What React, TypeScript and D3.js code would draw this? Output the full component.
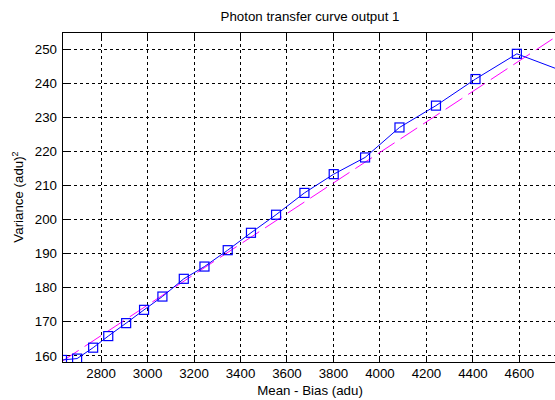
import React from "react";
import * as d3 from "d3";

const meanBias = [2632, 2697, 2766, 2831, 2908, 2985, 3064, 3156, 3245, 3345, 3445, 3553, 3675, 3801, 3936, 4084, 4241, 4411, 4589, 4795];
const variance = [158.8, 159.2, 162.4, 165.8, 169.6, 173.5, 177.4, 182.6, 186.2, 191.0, 196.1, 201.4, 207.8, 213.3, 218.2, 227.0, 233.4, 241.2, 248.6, 243.3];
const fitX = [2632, 4766];
const fitY = [158.4, 254.0];
const xTicks = [2800, 3000, 3200, 3400, 3600, 3800, 4000, 4200, 4400, 4600];
const yTicks = [160, 170, 180, 190, 200, 210, 220, 230, 240, 250];

const W = 555, H = 400;
const L = 62, R = 558, T = 32, B = 362;
const FONT = "'Liberation Sans', Arial, sans-serif";

export default function App() {
  const x = d3.scaleLinear().domain([2632, 4766]).range([L, R]);
  const y = d3.scaleLinear().domain([158.2, 255.0]).range([B, T]);
  const pts: [number, number][] = meanBias.map((m, i) => [m, variance[i]]);
  const line = d3.line<[number, number]>().x(d => x(d[0])).y(d => y(d[1]));
  const fitPts: [number, number][] = fitX.map((v, i) => [v, fitY[i]]);
  const sq = 9;
  return (
    <svg width={W} height={H} style={{ position: "absolute", left: 0, top: 0, background: "#fff" }} fontFamily={FONT}>
      <defs>
        <clipPath id="plotclip">
          <rect x={L} y={T} width={R - L} height={B - T} />
        </clipPath>
      </defs>
      <rect x={0} y={0} width={W} height={H} fill="#fff" />
      {xTicks.map(t => (
        <line key={"gx" + t} x1={x(t)} x2={x(t)} y1={T} y2={B} stroke="#000" strokeWidth={1} strokeDasharray="3,3" shapeRendering="crispEdges" />
      ))}
      {yTicks.map(t => (
        <line key={"gy" + t} x1={L} x2={R} y1={y(t)} y2={y(t)} stroke="#000" strokeWidth={1} strokeDasharray="3,3" shapeRendering="crispEdges" />
      ))}
      {xTicks.map(t => (
        <g key={"tx" + t}>
          <line x1={x(t)} x2={x(t)} y1={B} y2={B - 6} stroke="#000" shapeRendering="crispEdges" />
          <line x1={x(t)} x2={x(t)} y1={T} y2={T + 6} stroke="#000" shapeRendering="crispEdges" />
          <text x={x(t)} y={377.5} textAnchor="middle" fontSize={13.3} fill="#000">{t}</text>
        </g>
      ))}
      {yTicks.map(t => (
        <g key={"ty" + t}>
          <line x1={L} x2={L + 6} y1={y(t)} y2={y(t)} stroke="#000" shapeRendering="crispEdges" />
          <text x={57} y={y(t)} dy="0.35em" textAnchor="end" fontSize={13.3} fill="#000">{t}</text>
        </g>
      ))}
      <g clipPath="url(#plotclip)">
        <path d={line(fitPts) || ""} fill="none" stroke="#ff00ff" strokeWidth={1} strokeDasharray="20,7" />
        <path d={line(pts) || ""} fill="none" stroke="#0000ff" strokeWidth={1} />
        {pts.map((p, i) => (
          <rect key={i} x={x(p[0]) - sq / 2} y={y(p[1]) - sq / 2} width={sq} height={sq} fill="none" stroke="#0000ff" strokeWidth={1.2} />
        ))}
      </g>
      <rect x={L} y={T} width={R - L} height={B - T} fill="none" stroke="#000" strokeWidth={1} shapeRendering="crispEdges" />
      <text x={(L + R) / 2} y={21} textAnchor="middle" fontSize={13.3} fill="#000">Photon transfer curve output 1</text>
      <text x={(L + R) / 2} y={394.5} textAnchor="middle" fontSize={13.3} fill="#000">Mean - Bias (adu)</text>
      <text transform={`translate(22.5,${(T + B) / 2}) rotate(-90)`} textAnchor="middle" fontSize={13.3} fill="#000">
        Variance (adu)<tspan fontSize={9} dy={-5}>2</tspan>
      </text>
    </svg>
  );
}
